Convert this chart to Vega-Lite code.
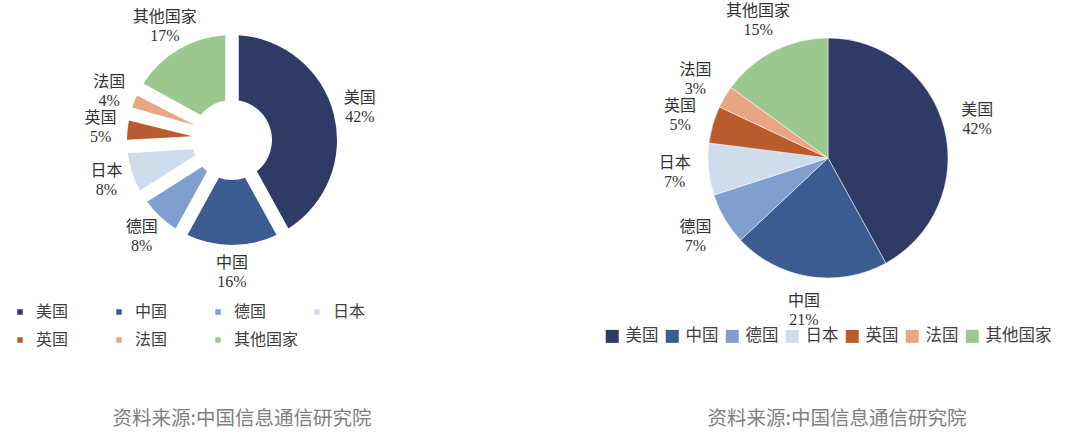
{
  "$schema": "https://vega.github.io/schema/vega-lite/v6.json",
  "padding": {"left": 0, "top": 0, "right": 0, "bottom": 8},
  "background": "white",
  "spacing": 114,
  "config": {
    "view": {"stroke": null},
    "font": "Liberation Serif, Noto Sans CJK SC",
    "title": {"font": "Noto Sans CJK SC", "fontSize": 19.5, "fontWeight": "normal", "color": "#808080"}
  },
  "hconcat": [
    {
      "width": 464,
      "height": 280,
      "data": {"values": [
        {"country": "美国", "share": 42, "idx": 1},
        {"country": "中国", "share": 16, "idx": 2},
        {"country": "德国", "share": 8, "idx": 3},
        {"country": "日本", "share": 8, "idx": 4},
        {"country": "英国", "share": 5, "idx": 5},
        {"country": "法国", "share": 4, "idx": 6},
        {"country": "其他国家", "share": 17, "idx": 7}
      ]},
      "transform": [{"calculate": "datum.country + '\\n' + datum.share + '%'", "as": "label"}],
      "title": {"text": "资料来源:中国信息通信研究院", "orient": "bottom", "anchor": "middle", "dx": 10, "offset": 62},
      "encoding": {
        "theta": {"field": "share", "type": "quantitative", "stack": true},
        "order": {"field": "idx", "type": "quantitative"}
      },
      "layer": [
        {
          "mark": {"type": "arc", "outerRadius": 105, "innerRadius": 40, "padAngle": 0.12},
          "encoding": {
            "color": {
              "field": "country", "type": "nominal",
              "scale": {"domain": ["美国", "中国", "德国", "日本", "英国", "法国", "其他国家"],
                        "range": ["#2E3B64", "#3B5B91", "#809FCE", "#CEDCEC", "#B95C2D", "#EAA584", "#9CC890"]},
              "legend": {
                "title": null, "orient": "none", "legendX": 12, "legendY": 304,
                "direction": "horizontal", "columns": 4, "gridAlign": "all",
                "columnPadding": 10, "rowPadding": 12,
                "symbolType": "square", "symbolSize": 30, "symbolStrokeWidth": 0,
                "labelFontSize": 16, "labelColor": "#404040", "labelOffset": 8
              }
            }
          }
        },
        {
          "mark": {"type": "text", "radius": 132, "lineBreak": "\n", "fontSize": 16, "lineHeight": 19, "dy": -9.5, "color": "#333333", "align": "center", "baseline": "middle"},
          "encoding": {"text": {"field": "label"}}
        }
      ]
    },
    {
      "width": 500,
      "height": 316,
      "data": {"values": [
        {"country": "美国", "share": 42, "idx": 1},
        {"country": "中国", "share": 21, "idx": 2},
        {"country": "德国", "share": 7, "idx": 3},
        {"country": "日本", "share": 7, "idx": 4},
        {"country": "英国", "share": 5, "idx": 5},
        {"country": "法国", "share": 3, "idx": 6},
        {"country": "其他国家", "share": 15, "idx": 7}
      ]},
      "transform": [{"calculate": "datum.country + '\\n' + datum.share + '%'", "as": "label"}],
      "title": {"text": "资料来源:中国信息通信研究院", "orient": "bottom", "anchor": "middle", "dx": 9, "offset": 65},
      "encoding": {
        "theta": {"field": "share", "type": "quantitative", "stack": true},
        "order": {"field": "idx", "type": "quantitative"}
      },
      "layer": [
        {
          "mark": {"type": "arc", "outerRadius": 120, "stroke": "white", "strokeWidth": 0.5},
          "encoding": {
            "color": {
              "field": "country", "type": "nominal",
              "scale": {"domain": ["美国", "中国", "德国", "日本", "英国", "法国", "其他国家"],
                        "range": ["#2E3B64", "#3B5B91", "#809FCE", "#CEDCEC", "#B95C2D", "#EAA584", "#9CC890"]},
              "legend": {
                "title": null, "orient": "none", "legendX": 26, "legendY": 328,
                "direction": "horizontal", "columnPadding": 5,
                "symbolType": "square", "symbolSize": 169, "symbolStrokeWidth": 0,
                "labelFontSize": 16.5, "labelColor": "#404040", "labelOffset": 5
              }
            }
          }
        },
        {
          "mark": {"type": "text", "radius": 154, "lineBreak": "\n", "fontSize": 16, "lineHeight": 19, "dy": -9.5, "color": "#333333", "align": "center", "baseline": "middle"},
          "encoding": {"text": {"field": "label"}}
        }
      ]
    }
  ],
  "resolve": {"scale": {"color": "independent", "theta": "independent"}, "legend": {"color": "independent"}}
}
